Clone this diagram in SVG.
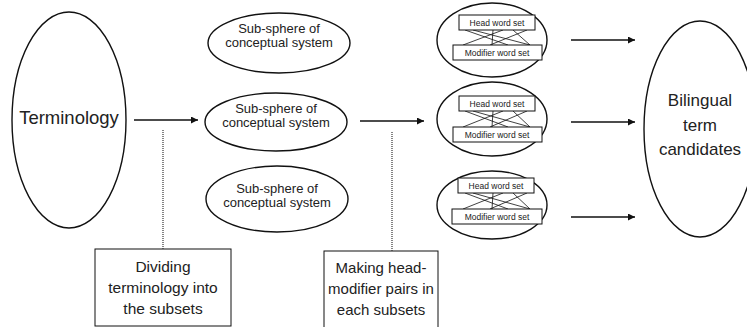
<svg xmlns="http://www.w3.org/2000/svg" width="747" height="327" viewBox="0 0 747 327">
<defs>
<marker id="ah" viewBox="0 0 10 10" refX="10" refY="5" markerWidth="7" markerHeight="7" markerUnits="userSpaceOnUse" orient="auto"><path d="M0,0 L10,5 L0,10 z" fill="#111"/></marker>
</defs>
<style>
.sh{fill:#fff;stroke:#111;stroke-width:1.4}
.bx{fill:#fff;stroke:#111;stroke-width:1}
.t{font-family:"Liberation Sans",Arial,sans-serif;fill:#222;text-anchor:middle}
.ar{stroke:#111;stroke-width:1.6;fill:none;marker-end:url(#ah)}
.dt{stroke:#333;stroke-width:1.2;stroke-dasharray:1 1;fill:none}
.ln{stroke:#111;stroke-width:0.8;fill:none}
</style>
<g id="terminology">
<ellipse class="sh" cx="69" cy="120" rx="57" ry="108"/>
<text class="t" x="69" y="124" font-size="18.5">Terminology</text>
</g>
<g id="sub1">
<ellipse class="sh" cx="279" cy="43" rx="71" ry="30"/>
<text class="t" x="279" y="33" font-size="13">Sub-sphere of</text>
<text class="t" x="279" y="47" font-size="13">conceptual system</text>
</g>
<g id="sub2">
<ellipse class="sh" cx="276" cy="122" rx="71" ry="29"/>
<text class="t" x="276" y="113" font-size="13">Sub-sphere of</text>
<text class="t" x="276" y="127" font-size="13">conceptual system</text>
</g>
<g id="sub3">
<ellipse class="sh" cx="277" cy="199" rx="71" ry="33"/>
<text class="t" x="277" y="193" font-size="13">Sub-sphere of</text>
<text class="t" x="277" y="207" font-size="13">conceptual system</text>
</g>
<g id="pair1">
<ellipse class="sh" cx="492" cy="40" rx="55" ry="37"/>
<g class="ln"><path d="M465,30 L508,45 M473,30 L530,45 M493,30 L492,45 M503,30 L463,45 M513,30 L530,45 M527,30 L490,45"/></g>
<rect class="bx" x="459" y="15" width="76" height="15"/>
<text class="t" x="497" y="26" font-size="8.5">Head word set</text>
<rect class="bx" x="453" y="45" width="89" height="15"/>
<text class="t" x="497" y="56" font-size="8.5">Modifier word set</text>
</g>
<g id="pair2">
<ellipse class="sh" cx="492" cy="119" rx="55" ry="37"/>
<g class="ln"><path d="M465,111 L508,127 M473,111 L530,127 M493,111 L492,127 M503,111 L463,127 M513,111 L530,127 M527,111 L490,127"/></g>
<rect class="bx" x="459" y="96" width="76" height="15"/>
<text class="t" x="497" y="107" font-size="8.5">Head word set</text>
<rect class="bx" x="453" y="127" width="89" height="15"/>
<text class="t" x="497" y="138" font-size="8.5">Modifier word set</text>
</g>
<g id="pair3">
<ellipse class="sh" cx="492" cy="205" rx="55" ry="34"/>
<g class="ln"><path d="M465,193 L508,209 M473,193 L530,209 M493,193 L492,209 M503,193 L463,209 M513,193 L530,209 M527,193 L490,209"/></g>
<rect class="bx" x="458" y="178" width="76" height="15"/>
<text class="t" x="496" y="189" font-size="8.5">Head word set</text>
<rect class="bx" x="452" y="209" width="90" height="15"/>
<text class="t" x="497" y="220" font-size="8.5">Modifier word set</text>
</g>
<g id="bilingual">
<ellipse class="sh" cx="700" cy="129" rx="56" ry="108"/>
<text class="t" x="700" y="106" font-size="17">Bilingual</text>
<text class="t" x="700" y="131" font-size="17">term</text>
<text class="t" x="700" y="155" font-size="17">candidates</text>
</g>
<g id="box-dividing">
<rect class="bx" x="95" y="249" width="136" height="77"/>
<text class="t" x="163" y="272" font-size="15.5">Dividing</text>
<text class="t" x="163" y="293" font-size="15.5">terminology into</text>
<text class="t" x="163" y="314" font-size="15.5">the subsets</text>
</g>
<g id="box-making">
<rect class="bx" x="324" y="251" width="114" height="80"/>
<text class="t" x="381" y="273" font-size="15">Making head-</text>
<text class="t" x="381" y="294" font-size="15">modifier pairs in</text>
<text class="t" x="381" y="315" font-size="15">each subsets</text>
</g>
<g id="connectors">
<line class="ar" x1="134" y1="120" x2="198" y2="120"/>
<line class="ar" x1="360" y1="121" x2="424" y2="121"/>
<line class="ar" x1="571" y1="40" x2="635" y2="40"/>
<line class="ar" x1="571" y1="122" x2="635" y2="122"/>
<line class="ar" x1="571" y1="217" x2="635" y2="217"/>
<line class="dt" x1="163" y1="130" x2="163" y2="249"/>
<line class="dt" x1="392" y1="132" x2="392" y2="251"/>
</g>
</svg>
